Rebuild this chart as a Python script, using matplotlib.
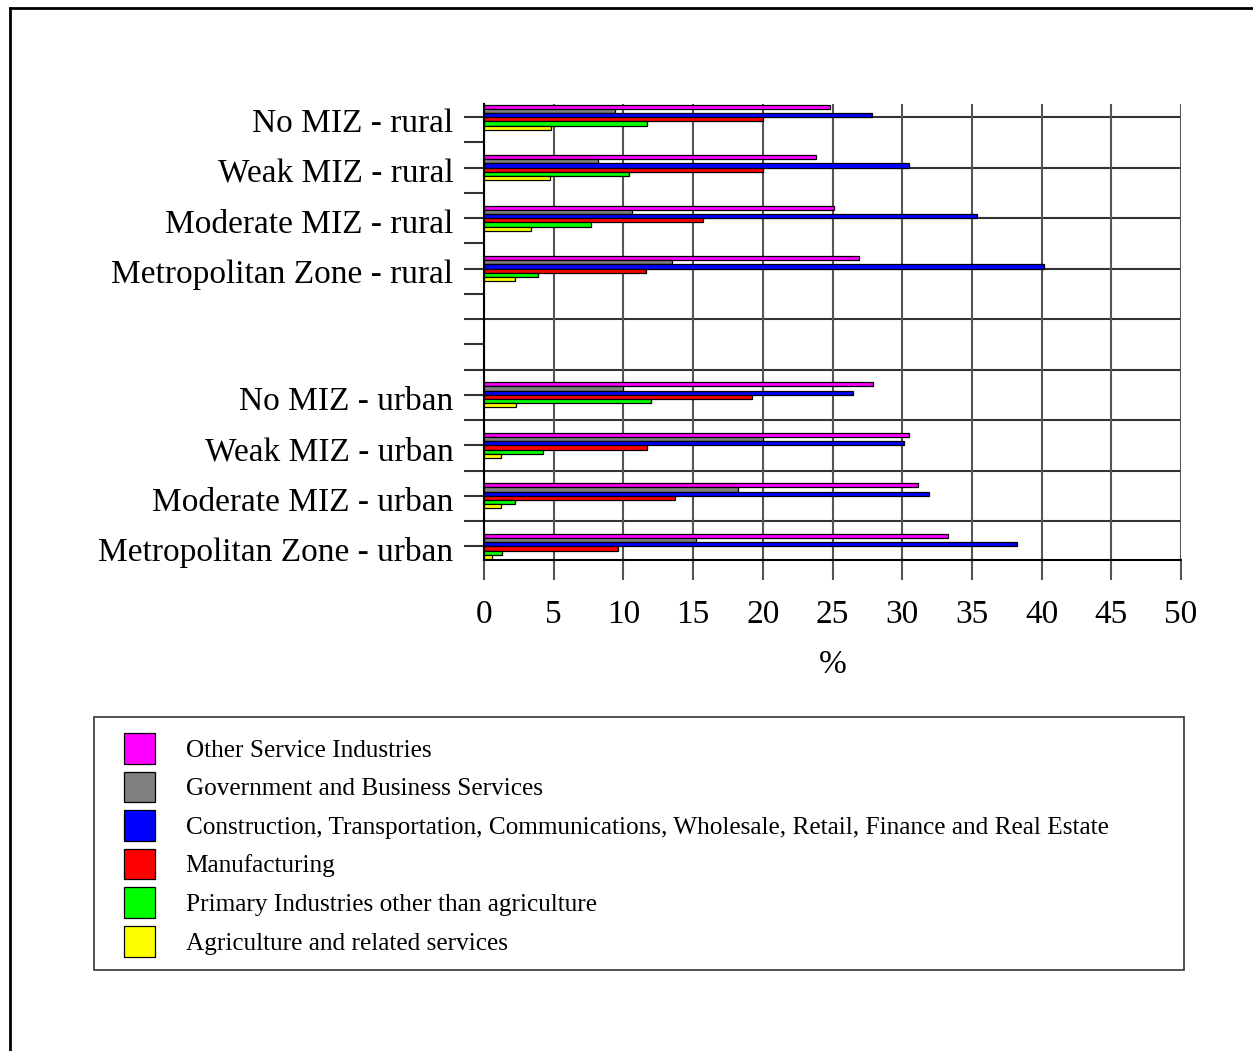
import numpy as np
import matplotlib
matplotlib.use("Agg")
import matplotlib.pyplot as plt
import matplotlib.transforms as mtransforms
from matplotlib.patches import Rectangle
from matplotlib.lines import Line2D

plt.rcParams['font.family'] = ['Liberation Serif', 'DejaVu Serif']

# categories, top to bottom
categories = ["No MIZ - rural", "Weak MIZ - rural", "Moderate MIZ - rural",
              "Metropolitan Zone - rural",
              "No MIZ - urban", "Weak MIZ - urban", "Moderate MIZ - urban",
              "Metropolitan Zone - urban"]
slots = [0, 1, 2, 3, 5, 6, 7, 8]          # slot 4 is left empty
is_urban = [0, 0, 0, 0, 1, 1, 1, 1]

industries = ["Other Service Industries",
              "Government and Business Services",
              "Construction, Transportation, Communications, Wholesale, Retail, Finance and Real Estate",
              "Manufacturing",
              "Primary Industries other than agriculture",
              "Agriculture and related services"]
colors = ["#FF00FF", "#808080", "#0000FF", "#FF0000", "#00FF00", "#FFFF00"]

# % of employment, one list per industry, same order as categories
other_services = [24.8, 23.8, 25.1, 26.9, 27.9, 30.5, 31.1, 33.3]
gov_business   = [9.4, 8.2, 10.6, 13.5, 10.0, 20.0, 18.2, 15.2]
construction   = [27.8, 30.5, 35.4, 40.2, 26.5, 30.1, 31.9, 38.2]
manufacturing  = [20.0, 20.0, 15.7, 11.6, 19.2, 11.7, 13.7, 9.6]
primary        = [11.7, 10.4, 7.7, 3.9, 12.0, 4.2, 2.2, 1.3]
agriculture    = [4.8, 4.7, 3.4, 2.2, 2.3, 1.2, 1.2, 0.6]
series = [other_services, gov_business, construction, manufacturing, primary, agriculture]

W, H = 1253, 1051
fig = plt.figure(figsize=(W / 100, H / 100), dpi=100)
ax = fig.add_axes([484 / W, 1 - 560 / H, (1181 - 484) / W, (560 - 104) / H])

centers = np.array([2 * s + u for s, u in zip(slots, is_urban)], dtype=float)
bh = 1 / 6
bars = []
for j, (vals, col) in enumerate(zip(series, colors)):
    b = ax.barh(centers + (j - 2.5) * bh, vals, height=bh, color=col,
                edgecolor="black", linewidth=0.9, zorder=3)
    bars.append(b)

ax.set_xlim(0, 50)
ax.set_ylim(17.54, -0.52)
ax.set_xticks(np.arange(0, 51, 5))
ax.tick_params(axis="x", direction="out", length=14.4, width=1.5, color="#555555",
               labelsize=24, pad=14)
ax.grid(axis="x", color="#555555", linewidth=1.5, zorder=1)

ax.set_yticks(centers)
ax.set_yticklabels(categories)
ax.tick_params(axis="y", which="major", length=0, labelsize=24, pad=22)
shift = mtransforms.ScaledTranslation(0, -3 / 100, fig.dpi_scale_trans)
for lab in ax.get_yticklabels():
    lab.set_transform(lab.get_transform() + shift)
ax.set_yticks(np.arange(0, 18), minor=True)
ax.yaxis.remove_overlapping_locs = False
ax.tick_params(axis="y", which="minor", direction="out", length=14.4, width=1.5,
               color="#333333")
for yy in range(0, 17, 2):
    ax.axhline(yy, color="#333333", linewidth=1.5, zorder=1)

ax.spines["top"].set_visible(False)
ax.spines["right"].set_visible(False)
ax.spines["left"].set_linewidth(1.5)
ax.spines["bottom"].set_linewidth(1.5)
ax.set_xlabel("%", fontsize=24, labelpad=14)

# legend box
fig.add_artist(Rectangle((94 / W, 1 - 970 / H), 1090 / W, 253 / H, fill=False,
                         edgecolor="#333333", linewidth=1.2, transform=fig.transFigure))
fig.legend(bars, industries, loc="upper left", bbox_to_anchor=(124 / W, 1 - 733 / H),
           frameon=False, fontsize=18.2, handlelength=1.24, handleheight=1.48,
           labelspacing=0.32, handletextpad=1.2, borderpad=0, borderaxespad=0)

# outer frame
fig.add_artist(Line2D([10 / W, 10 / W], [0, 1 - 8 / H], color="black", linewidth=2,
                      transform=fig.transFigure))
fig.add_artist(Line2D([10 / W, 1], [1 - 8 / H, 1 - 8 / H], color="black", linewidth=2,
                      transform=fig.transFigure))

fig.savefig("out.png", dpi=100)
